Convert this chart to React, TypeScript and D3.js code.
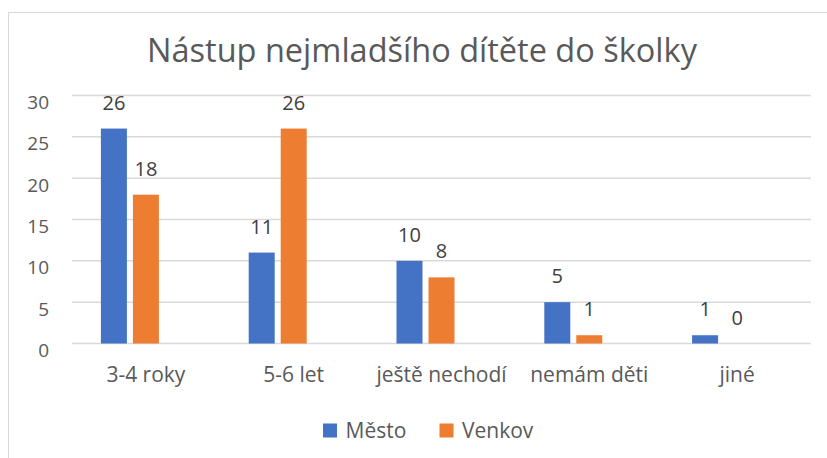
import React from 'react';
import * as d3 from 'd3';

const title = 'Nástup nejmladšího dítěte do školky';
const categories = ['3-4 roky', '5-6 let', 'ještě nechodí', 'nemám děti', 'jiné'];
const seriesNames = ['Město', 'Venkov'];
const mesto = [26, 11, 10, 5, 1];
const venkov = [18, 26, 8, 1, 0];
const yTicks = [0, 5, 10, 15, 20, 25, 30];
const colors = ['#4472C4', '#ED7D31'];

const W = 827;
const H = 458;
const margin = { top: 95.5, right: 16, bottom: 114.5, left: 72 };
const font = '"Open Sans", sans-serif';
const textColor = '#595959';

export default function App() {
  const values = [mesto, venkov];

  const x0 = d3
    .scaleBand<string>()
    .domain(categories)
    .range([margin.left, W - margin.right]);

  // the source chart keeps room for a third (empty) series, so bars sit left of centre
  const groupWidth = 90;
  const x1 = d3
    .scaleBand<string>()
    .domain([...seriesNames, ''])
    .range([0, groupWidth])
    .paddingInner(0.1875);
  const groupOffset = (x0.bandwidth() - groupWidth) / 2;

  const y = d3
    .scaleLinear()
    .domain([0, 30])
    .range([H - margin.bottom, margin.top]);

  const legendX = [323, 439.5];

  return (
    <div style={{ position: 'absolute', left: 0, top: 0 }}>
      <svg width={W} height={H} style={{ display: 'block', fontFamily: font }}>
        <rect x={0} y={0} width={W} height={H} fill="#fff" />
        <rect x={8.5} y={12.5} width={W + 20} height={H + 20} fill="none" stroke="#D9D9D9" />

        <text x={422} y={62} textAnchor="middle" fontSize={32.5} fill={textColor}>
          {title}
        </text>

        {yTicks.map(t => (
          <g key={t}>
            <line
              x1={margin.left}
              x2={W - margin.right}
              y1={y(t)}
              y2={y(t)}
              stroke="#D9D9D9"
              strokeWidth={1.5}
            />
            <text x={49} y={y(t) + 13.5} textAnchor="end" fontSize={19} fill={textColor}>
              {t}
            </text>
          </g>
        ))}

        {seriesNames.map((s, si) => (
          <g key={s} fill={colors[si]}>
            {categories.map((c, ci) => {
              const v = values[si][ci];
              const bx = (x0(c) as number) + groupOffset + (x1(s) as number);
              return (
                <g key={c}>
                  <rect
                    x={bx}
                    y={y(v)}
                    width={x1.bandwidth()}
                    height={y(0) - y(v)}
                  />
                  <text
                    x={bx + x1.bandwidth() / 2}
                    y={y(v) - 19}
                    textAnchor="middle"
                    fontSize={20}
                    fill="#404040"
                  >
                    {v}
                  </text>
                </g>
              );
            })}
          </g>
        ))}

        {categories.map(c => (
          <text
            key={c}
            x={(x0(c) as number) + x0.bandwidth() / 2}
            y={381.7}
            textAnchor="middle"
            fontSize={21}
            fill={textColor}
          >
            {c}
          </text>
        ))}

        {seriesNames.map((s, si) => (
          <g key={s}>
            <rect x={legendX[si]} y={423.5} width={14} height={14} fill={colors[si]} />
            <text x={legendX[si] + 22.5} y={437.7} fontSize={21} fill={textColor}>
              {s}
            </text>
          </g>
        ))}
      </svg>
    </div>
  );
}
